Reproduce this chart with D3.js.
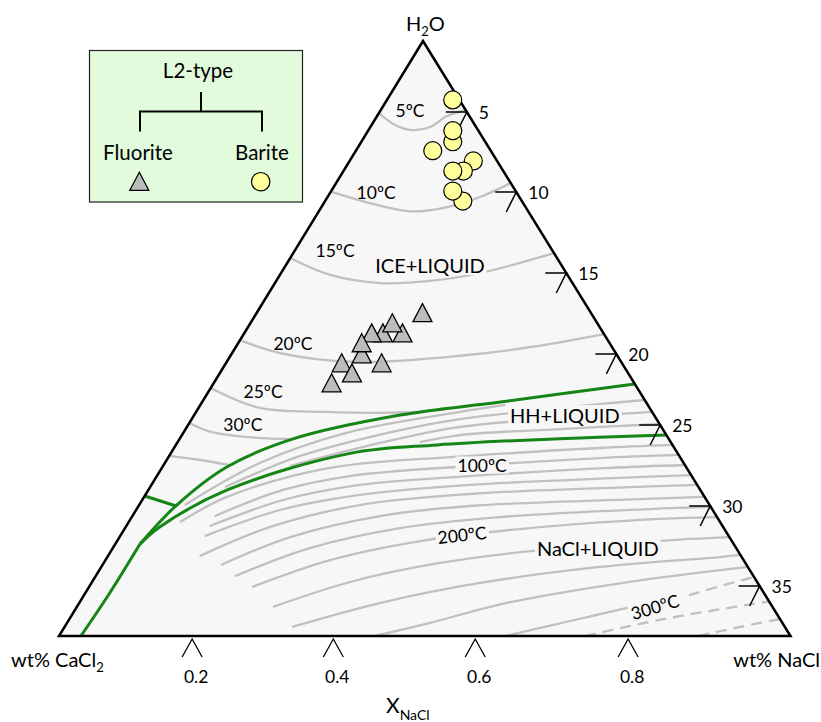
<!DOCTYPE html>
<html>
<head>
<meta charset="utf-8">
<script src="https://cdn.jsdelivr.net/npm/d3@7/dist/d3.min.js"></script>
<style>
html,body{margin:0;padding:0;background:#fff;}
svg{display:block;}
text{font-family:Lato,"Open Sans",sans-serif;fill:#000;}
</style>
</head>
<body>
<svg id="chart" width="821" height="722"></svg>
<script>
// ---------- DATA ----------
// every point is [f, w]: f = NaCl share of the salt (0 = CaCl2 edge, 1 = NaCl edge), w = total salinity, wt%
const salinityTicks = [5, 10, 15, 20, 25, 30, 35];
const xNaClTicks = [0.2, 0.4, 0.6, 0.8];

const bariteL2 = [[0.908,4.15],[0.738,6.86],[0.768,6.17],[0.570,7.42],[0.839,8.06],[0.750,8.69],[0.684,8.69],[0.700,10.56],[0.659,9.94]];
const fluoriteL2 = [[0.387,18.88],[0.340,20.2],[0.441,18.88],[0.410,18.26],[0.496,17.63],[0.356,18.88],[0.334,19.49],[0.394,20.83],[0.294,20.83],[0.325,21.54],[0.282,22.24]];

// ice + liquid isotherms
const iso5  = [[0,5.07],[0.227,5.81],[0.398,6.13],[0.564,5.94],[0.759,5.25],[1,4.86]];
const iso10 = [[0,9.98],[0.269,10.80],[0.450,11.20],[0.616,10.93],[0.795,10.31],[1,9.44]];
const iso15 = [[0,14.07],[0.175,15.12],[0.354,15.62],[0.522,15.49],[0.698,15.0],[1,13.77]];
const iso20 = [[0,19.14],[0.125,19.94],[0.331,20.56],[0.612,20.07],[0.791,19.55],[1,18.77]];
const iso25 = [[0,22.39],[0.136,23.80],[0.287,24.08],[0.448,24.12],[0.546,23.91]];
const iso30 = [[0,24.86],[0.054,25.41],[0.128,25.72],[0.232,25.88]];
const iso35 = [[0,26.91],[0.065,27.16],[0.127,27.47]];

// hydrohalite + liquid isotherms
const hh1 = [[0.080,29.94],[0.183,27.35],[0.346,25.43],[0.579,24.08],[0.681,23.59]];
const hh2 = [[0.137,28.83],[0.257,26.91],[0.450,25.31],[0.577,24.58],[0.801,23.80],[1,23.24]];
const hh3 = [[0.243,27.53],[0.411,26.11],[0.576,25.12],[0.793,24.51],[1,24.08]];
const hh4 = [[0.491,26.05],[0.574,25.62],[0.785,25.25],[1,24.93]];

// halite + liquid isotherms
const na0  = [[0.087,31.0],[0.148,29.44],[0.320,27.65],[0.590,26.91],[0.851,26.42],[1,26.23]];
const na1  = [[0.141,30.63],[0.244,29.01],[0.361,28.15],[0.588,27.53],[0.843,27.04],[1,26.85]];
const na2  = [[0.140,31.25],[0.250,29.63],[0.382,28.70],[0.585,28.15],[0.854,27.65],[1,27.47]];
const na3  = [[0.139,31.88],[0.250,30.25],[0.385,29.32],[0.584,28.70],[0.864,28.27],[1,28.09]];
const na4  = [[0.145,33.13],[0.242,31.31],[0.387,29.94],[0.582,29.26],[0.875,28.83],[1,28.70]];
const na5  = [[0.184,33.69],[0.280,31.94],[0.424,30.63],[0.580,30.0],[0.883,29.57],[1,29.44]];
const na6  = [[0.212,34.38],[0.316,32.63],[0.459,31.38],[0.629,30.69],[0.892,30.19],[1,30.06]];
const na7  = [[0.243,35.06],[0.352,33.38],[0.493,32.19],[0.659,31.44],[0.901,30.81],[1,30.69]];
const na8  = [[0.282,36.34],[0.388,34.75],[0.524,33.56],[0.717,32.63],[0.934,32.06],[1,31.94]];
const na9  = [[0.316,37.62],[0.435,36.09],[0.583,34.81],[0.771,33.81],[0.966,33.19],[1,33.06]];
const na10 = [[0.431,38.2],[0.505,37.39],[0.616,36.11],[0.793,34.83],[1,33.81]];
const na11 = [[0.610,38.2],[0.704,37.24],[0.797,36.34]];
const na11Dashed = [[0.888,35.58],[0.967,34.75],[1,34.44]];
const naDashedA = [[0.719,38.2],[0.828,37.18],[0.907,36.6],[1,35.99]];
const naDashedB = [[0.874,38.2],[0.938,37.62],[1,37.11]];

// phase boundaries (green)
const cotecticUpper = [[0.040,32.38],[0.066,29.94],[0.123,27.59],[0.232,25.86],[0.448,24.30],[0.672,23.38],[1,22.11]];
const cotecticLower = [[0.040,32.38],[0.057,31.31],[0.143,29.01],[0.354,26.75],[0.526,26.23],[0.764,25.86],[1,25.62]];
const cotecticBase  = [[0.030,38.2],[0.036,35.45],[0.040,32.38]];
const cotecticShort = [[0,29.38],[0.066,30.0]];

const isothermLabels = [
  {text:"5ºC",  f:0.344, w:4.86},
  {text:"10ºC", f:0.245, w:10.0},
  {text:"15ºC", f:0.157, w:13.64},
  {text:"20ºC", f:0.148, w:19.35},
  {text:"25ºC", f:0.126, w:22.61},
  {text:"30ºC", f:0.115, w:24.93}
];
const inlineLabels = [
  {text:"100ºC", f:0.611, w:27.47, rot:0},
  {text:"200ºC", f:0.562, w:31.81, rot:-6},
  {text:"300ºC", f:0.831, w:36.34, rot:-17}
];
const fieldLabels = [
  {text:"ICE+LIQUID",  f:0.523, w:14.51},
  {text:"HH+LIQUID",   f:0.806, w:24.30},
  {text:"NaCl+LIQUID", f:0.778, w:32.63}
];

// ---------- LAYOUT ----------
const apex = {x:423, y:41}, bl = {x:59, y:636}, br = {x:790.5, y:636};
const yScale = d3.scaleLinear()
  .domain([0,5,10,15,20,25,30,35,38.2])
  .range([41,112,192,273,354,425,506,586,636]);
const xNaClScale = d3.scaleLinear()
  .domain([0,0.2,0.4,0.6,0.8,1])
  .range([0,0.182,0.375,0.569,0.778,1]);

function pos(f, w){
  const y = yScale(w);
  const t = (y - apex.y) / (bl.y - apex.y);
  const xl = apex.x + t*(bl.x - apex.x);
  const xr = apex.x + t*(br.x - apex.x);
  return [xl + f*(xr - xl), y];
}

const svg = d3.select("#chart");
const curve = d3.line().x(d=>pos(d[0],d[1])[0]).y(d=>pos(d[0],d[1])[1]).curve(d3.curveCatmullRom.alpha(0.5));

// triangle fill
const triPts = [[apex.x,apex.y],[bl.x,bl.y],[br.x,br.y]];
svg.append("path").attr("d", d3.line()(triPts)+"Z").attr("fill","#f7f7f7");

// isotherms
const grayLines = [iso5,iso10,iso15,iso20,iso25,iso30,iso35,hh1,hh2,hh3,hh4,
  na0,na1,na2,na3,na4,na5,na6,na7,na8,na9,na10,na11];
svg.append("g").selectAll("path").data(grayLines).join("path")
  .attr("d", curve).attr("fill","none").attr("stroke","#c0c0c0").attr("stroke-width",2.3);
svg.append("g").selectAll("path").data([na11Dashed,naDashedA,naDashedB]).join("path")
  .attr("d", curve).attr("fill","none").attr("stroke","#c0c0c0").attr("stroke-width",2.3)
  .attr("stroke-dasharray","11,7");

// green boundaries
svg.append("g").selectAll("path").data([cotecticUpper,cotecticLower,cotecticBase,cotecticShort]).join("path")
  .attr("d", curve).attr("fill","none").attr("stroke","#158515").attr("stroke-width",3);

// labels with knockout background
function knockLabel(gSel, d, size){
  const p = pos(d.f, d.w);
  const g = gSel.append("g").attr("transform", `translate(${p[0]},${p[1]}) rotate(${d.rot||0})`);
  const r = g.append("rect").attr("fill","#f7f7f7");
  const t = g.append("text").attr("text-anchor","middle").attr("dominant-baseline","central")
    .attr("font-size", size).text(d.text);
  const bb = t.node().getBBox();
  r.attr("x", bb.x-2).attr("y", bb.y+2).attr("width", bb.width+4).attr("height", bb.height-4);
}
const labG = svg.append("g");
inlineLabels.forEach(d=>knockLabel(labG, d, 17.5));
fieldLabels.forEach(d=>knockLabel(labG, d, 20));
labG.selectAll("text.iso").data(isothermLabels).join("text").attr("class","iso")
  .attr("x", d=>pos(d.f,d.w)[0]).attr("y", d=>pos(d.f,d.w)[1])
  .attr("text-anchor","middle").attr("dominant-baseline","central").attr("font-size",17.5)
  .text(d=>d.text);

// triangle outline
svg.append("path").attr("d", d3.line()(triPts)+"Z").attr("fill","none")
  .attr("stroke","#000").attr("stroke-width",2.5).attr("stroke-linejoin","miter");

// right axis ticks (salinity)
const rt = svg.append("g");
salinityTicks.forEach(v=>{
  const p = pos(1, v);
  rt.append("path").attr("d", `M${p[0]-21},${p[1]}L${p[0]},${p[1]}L${p[0]-10},${p[1]+20}`)
    .attr("fill","none").attr("stroke","#000").attr("stroke-width",1.5);
  rt.append("text").attr("x", p[0]+12).attr("y", p[1]).attr("dominant-baseline","central")
    .attr("font-size",17.5).text(v);
});

// bottom axis ticks (X NaCl)
const bt = svg.append("g");
xNaClTicks.forEach(v=>{
  const x = bl.x + xNaClScale(v)*(br.x - bl.x);
  bt.append("path").attr("d", `M${x-10},${bl.y+21}L${x},${bl.y+3}L${x+10},${bl.y+21}`)
    .attr("fill","none").attr("stroke","#000").attr("stroke-width",1.3);
  bt.append("text").attr("x", x+4).attr("y", 683).attr("text-anchor","middle")
    .attr("font-size",17.5).text(v.toFixed(1));
});

// corner + axis titles
const h2o = svg.append("text").attr("x",406).attr("y",31).attr("font-size",20);
h2o.append("tspan").text("H");
h2o.append("tspan").attr("font-size",13).attr("dy",5).text("2");
h2o.append("tspan").attr("dy",-5).text("O");

const cacl = svg.append("text").attr("x",11).attr("y",667).attr("font-size",20);
cacl.append("tspan").text("wt% CaCl");
cacl.append("tspan").attr("font-size",13).attr("dy",5).text("2");

svg.append("text").attr("x",820).attr("y",667).attr("text-anchor","end").attr("font-size",20).text("wt% NaCl");

const xt = svg.append("text").attr("x",386).attr("y",713).attr("font-size",21);
xt.append("tspan").text("X");
xt.append("tspan").attr("font-size",14).attr("dy",7).text("NaCl");

// markers
const triPath = "M0,-12L9.5,6L-9.5,6Z";
svg.append("g").selectAll("path").data(fluoriteL2).join("path")
  .attr("transform", d=>`translate(${pos(d[0],d[1])[0]},${pos(d[0],d[1])[1]})`)
  .attr("d", triPath).attr("fill","#bcbcbc").attr("stroke","#000").attr("stroke-width",1.3);
svg.append("g").selectAll("circle").data(bariteL2).join("circle")
  .attr("cx", d=>pos(d[0],d[1])[0]).attr("cy", d=>pos(d[0],d[1])[1]).attr("r",9)
  .attr("fill","#ffff9c").attr("stroke","#000").attr("stroke-width",1.2);

// legend
const lg = svg.append("g");
lg.append("rect").attr("x",89.5).attr("y",50.5).attr("width",213).attr("height",151.5)
  .attr("fill","#e1fbdc").attr("stroke","#222").attr("stroke-width",1.2);
lg.append("text").attr("x",198).attr("y",78).attr("text-anchor","middle").attr("font-size",20.5).text("L2-type");
lg.append("path").attr("d","M201,92V111.5M140,131.5V111.5H262V131.5")
  .attr("fill","none").attr("stroke","#000").attr("stroke-width",2);
lg.append("text").attr("x",138).attr("y",160).attr("text-anchor","middle").attr("font-size",20.5).text("Fluorite");
lg.append("text").attr("x",262).attr("y",160).attr("text-anchor","middle").attr("font-size",20.5).text("Barite");
lg.append("path").attr("transform","translate(139.3,184.3)").attr("d",triPath)
  .attr("fill","#bcbcbc").attr("stroke","#000").attr("stroke-width",1.3);
lg.append("circle").attr("cx",260.7).attr("cy",181.7).attr("r",9.2)
  .attr("fill","#ffff9c").attr("stroke","#000").attr("stroke-width",1.2);
</script>
</body>
</html>
